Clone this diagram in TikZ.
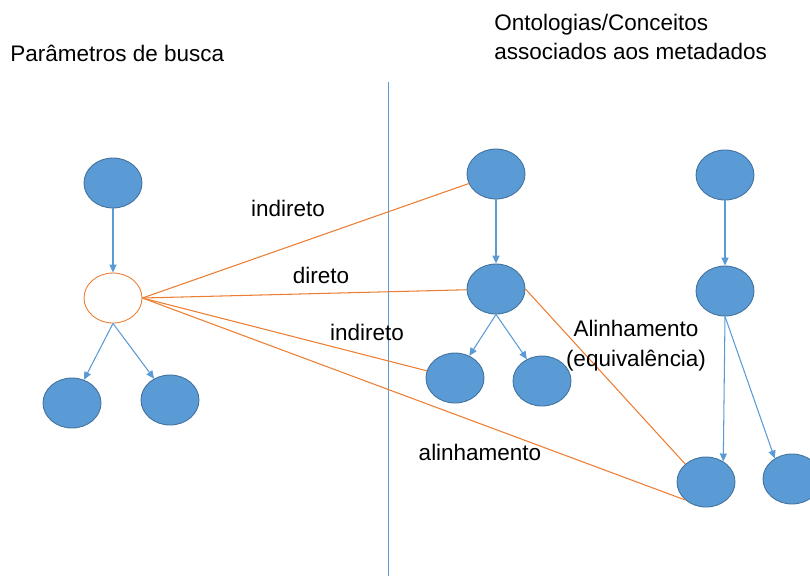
\documentclass[tikz,border=0pt]{standalone}
\usepackage{fontspec}
\setmainfont{Liberation Sans}
\usetikzlibrary{shapes.geometric,arrows.meta}
\definecolor{nodeblue}{HTML}{5B9BD5}
\definecolor{nodeedge}{HTML}{41719C}
\definecolor{linkorange}{HTML}{ED7D31}
\tikzset{
  concept/.style={ellipse, fill=nodeblue, draw=nodeedge, line width=0.5pt,
    minimum width=1.16cm, minimum height=1cm, inner sep=0pt},
  param/.style={concept, fill=white, draw=linkorange},
  isa/.style={-{Triangle[length=4.5pt,width=4pt]}, draw=nodeblue, line width=0.6pt},
  link/.style={draw=linkorange, line width=0.6pt},
  lbl/.style={font=\fontsize{12.8}{17}\selectfont, inner sep=0pt}
}

\begin{document}
\begin{tikzpicture}[x=0.02cm, y=-0.02cm]
    \useasboundingbox (0,0) rectangle (810,576);
    % titles
    \node[lbl, anchor=west] (titleL) at (10,53) {Parâmetros de busca};
    \node[lbl, anchor=west, align=left] (titleR) at (494,37) {Ontologias/Conceitos\\associados aos metadados};
    % separator
    \coordinate (septop) at (388,82);
    \coordinate (sepbot) at (388,576);
    \draw[draw=nodeblue, line width=0.5pt] (septop) -- (sepbot); % divider

    % search parameters
    \node[concept] (ptop) at (113,183) {};
    \node[param] (pmid) at (113,298) {};
    \node[concept] (pleft) at (72,403) {};
    \node[concept] (pright) at (170,400) {};

    % first ontology
    \node[concept] (atop) at (496,174) {};
    \node[concept] (amid) at (496,289) {};
    \node[concept] (aleft) at (455,378) {};
    \node[concept] (aright) at (542,381) {};

    % second ontology
    \node[concept] (btop) at (725,175) {};
    \node[concept] (bmid) at (725,291) {};
    \node[concept] (bleft) at (706,482) {};
    \node[concept] (bright) at (792,479) {};

    % hierarchy arrows
    \draw[isa] (ptop) -- (pmid);
    \draw[isa] (pmid.south) -- (pleft);
    \draw[isa] (pmid.south) -- (pright);
    \draw[isa] (atop) -- (amid);
    \draw[isa] (amid.south) -- (aleft);
    \draw[isa] (amid.south) -- (aright);
    \draw[isa] (btop) -- (bmid);
    \draw[isa] (bmid.south) -- (bleft.50);
    \draw[isa] (bmid.south) -- (bright.130);

    % mappings
    \draw[link] (pmid.east) -- (atop);
    \draw[link] (pmid.east) -- (amid);
    \draw[link] (pmid.east) -- (aleft);
    \draw[link] (pmid.east) -- (bleft.south west);
    \draw[link] (amid.east) -- (bleft.north west);

    \node[lbl] (lind1) at (288,208) {indireto};
    \node[lbl] (ldir) at (321,275) {direto};
    \node[lbl] (lind2) at (367,332) {indireto};
    \node[lbl, align=center] (lalign) at (636,346) {Alinhamento\\(equivalência)};
    \node[lbl] (lalin) at (480,452) {alinhamento};
\end{tikzpicture}
\end{document}
